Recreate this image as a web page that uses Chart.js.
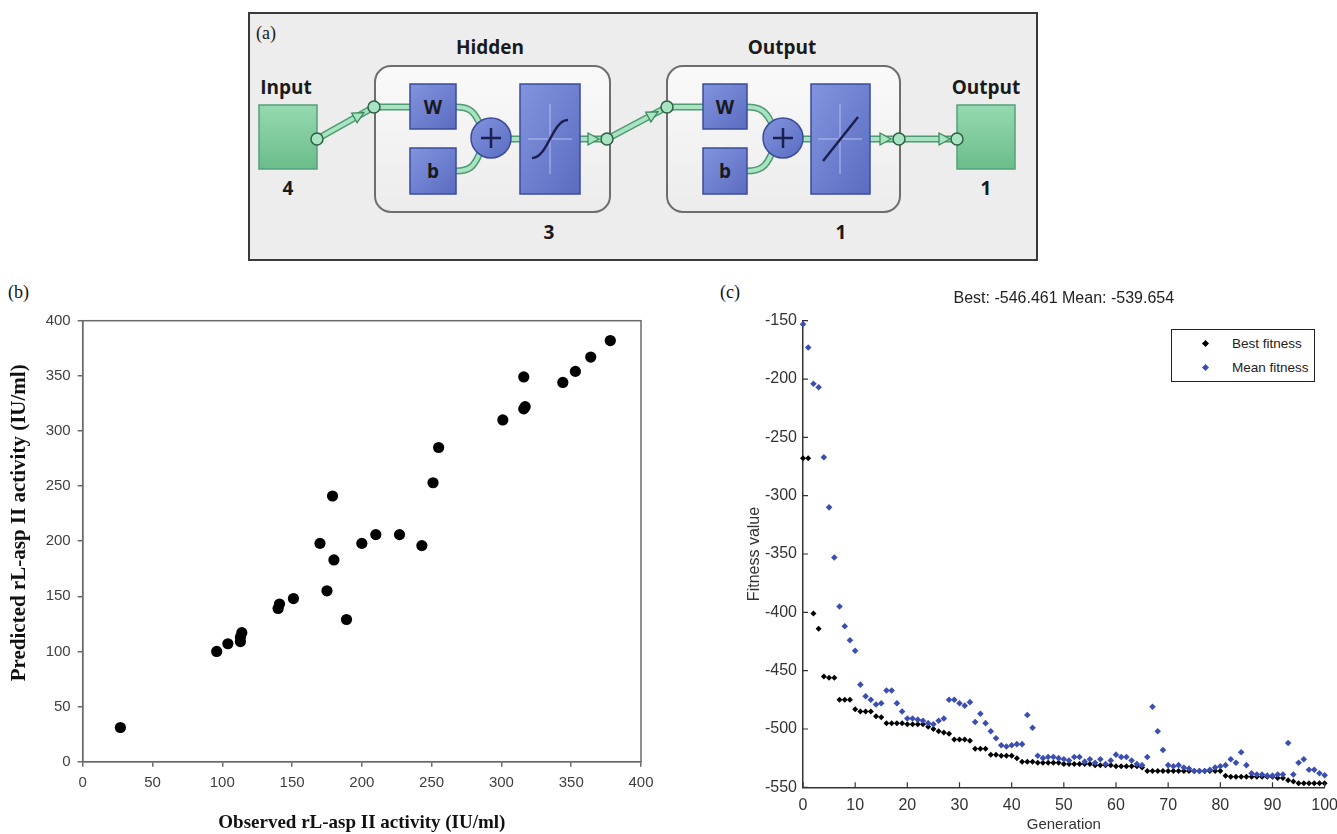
<!DOCTYPE html>
<html>
<head>
<meta charset="utf-8">
<title>ANN model and GA fitness</title>
<script src="https://cdn.jsdelivr.net/npm/chart.js@4.4.1/dist/chart.umd.min.js"></script>
<style>
  body { margin: 0; background: #fff; }
  #page { position: relative; width: 1337px; height: 834px; overflow: hidden; background: #fff; }
  .panel-label { position: absolute; font-family: "Liberation Serif", serif; font-size: 18px; color: #111; }
  #wrapB { position: absolute; left: 0; top: 280px; width: 680px; height: 554px; }
  /* a bit wider than the page: the x tick padding eats into the right edge */
  #wrapC { position: absolute; left: 700px; top: 280px; width: 647px; height: 554px; }
  #legendC {
    position: absolute; left: 1171px; top: 329px; width: 144px; height: 53px;
    box-sizing: border-box; border: 1.5px solid #222; background: #fff;
    font-family: "Liberation Sans", Arial, sans-serif; font-size: 13.5px; color: #222;
  }
  #legendC .row { position: absolute; left: 0; height: 14px; line-height: 14px; }
  #legendC .mk { position: absolute; left: 31px; top: 4px; width: 5px; height: 5px; transform: rotate(45deg); }
  #legendC .txt { position: absolute; left: 60px; top: 0; white-space: nowrap; }
  #diagram text { font-family: "Open Sans", "DejaVu Sans", sans-serif; font-weight: bold; fill: #1a1a1a; }
</style>
</head>
<body>
<div id="page">

<!-- (a) network diagram -->
<svg id="diagram" width="1337" height="270" style="position:absolute;left:0;top:0">
  <defs>
    <linearGradient id="gGreen" x1="0" y1="0" x2="0" y2="1">
      <stop offset="0" stop-color="#96d9b0"/><stop offset="1" stop-color="#6bbd8b"/>
    </linearGradient>
    <linearGradient id="gBlue" x1="0" y1="0" x2="1" y2="1">
      <stop offset="0" stop-color="#8294de"/><stop offset="1" stop-color="#5b6cc1"/>
    </linearGradient>
    <linearGradient id="gLayer" x1="0" y1="0" x2="0" y2="1">
      <stop offset="0" stop-color="#fafafa"/><stop offset="1" stop-color="#ececec"/>
    </linearGradient>
  </defs>
  <rect x="249" y="13" width="788" height="247" fill="#ededed" stroke="#3a3a3a" stroke-width="2"/>
  <text x="256" y="39" style="font-family:'Liberation Serif',serif;font-weight:normal;font-size:18px">(a)</text>

  <rect x="375" y="66" width="235" height="146" rx="16" fill="url(#gLayer)" stroke="#6e6e6e" stroke-width="2"/>
  <rect x="667" y="66" width="233" height="146" rx="16" fill="url(#gLayer)" stroke="#6e6e6e" stroke-width="2"/>

  <!-- tubes -->
  <g fill="none" stroke="#4f9a70" stroke-width="7" stroke-linecap="round">
    <path d="M317,139 L374,107"/><path d="M374,107 L410,107"/>
    <path d="M456,107 C470,107 474,112 479,122"/><path d="M456,171 C470,171 474,166 479,155"/>
    <path d="M511,139 L520,139"/><path d="M580,139 L607,139"/>
    <path d="M607,139 L667,107"/><path d="M667,107 L703,107"/>
    <path d="M747,107 C761,107 766,112 771,122"/><path d="M747,171 C761,171 766,166 771,155"/>
    <path d="M803,139 L811,139"/><path d="M870,139 L899,139"/><path d="M899,139 L957,139"/>
  </g>
  <g fill="none" stroke="#a8e4c2" stroke-width="4" stroke-linecap="round">
    <path d="M317,139 L374,107"/><path d="M374,107 L410,107"/>
    <path d="M456,107 C470,107 474,112 479,122"/><path d="M456,171 C470,171 474,166 479,155"/>
    <path d="M511,139 L520,139"/><path d="M580,139 L607,139"/>
    <path d="M607,139 L667,107"/><path d="M667,107 L703,107"/>
    <path d="M747,107 C761,107 766,112 771,122"/><path d="M747,171 C761,171 766,166 771,155"/>
    <path d="M803,139 L811,139"/><path d="M870,139 L899,139"/><path d="M899,139 L957,139"/>
  </g>
  <g fill="#a8e4c2" stroke="#3f8a60" stroke-width="1.3">
    <polygon points="351.7,113.1 364,112.5 357.1,122.7"/>
    <polygon points="645.7,112.2 658,111.8 650.9,121.9"/>
    <polygon points="588,133 599,139 588,145"/>
    <polygon points="880,133 891,139 880,145"/>
    <polygon points="939,133 950,139 939,145"/>
  </g>

  <!-- input / output squares -->
  <rect x="259" y="105" width="58" height="64" fill="url(#gGreen)" stroke="#56a079" stroke-width="1.5"/>
  <rect x="957" y="105" width="58" height="64" fill="url(#gGreen)" stroke="#56a079" stroke-width="1.5"/>

  <!-- weight / bias / transfer boxes -->
  <g fill="url(#gBlue)" stroke="#3b4b9c" stroke-width="1.5">
    <rect x="410" y="84" width="46" height="45"/><rect x="410" y="148" width="46" height="46"/>
    <rect x="520" y="84" width="60" height="110"/>
    <rect x="703" y="84" width="44" height="45"/><rect x="703" y="148" width="44" height="46"/>
    <rect x="811" y="84" width="59" height="110"/>
    <circle cx="491" cy="138" r="20"/><circle cx="783" cy="138" r="20"/>
  </g>
  <g stroke="#b4c0f0" stroke-width="1">
    <path d="M550,104 L550,174 M528,139 L572,139"/>
    <path d="M840,104 L840,174 M818,139 L862,139"/>
  </g>
  <g fill="none" stroke="#1b2050" stroke-width="2.5">
    <path d="M532,158 C548,158 552,120 568,120"/>
    <path d="M823,161 L858,117"/>
    <path d="M481,138 L501,138 M491,128 L491,148"/>
    <path d="M773,138 L793,138 M783,128 L783,148"/>
  </g>

  <!-- connector nodes -->
  <g fill="#a8e4c2" stroke="#2f5f45" stroke-width="1.5">
    <circle cx="317" cy="139" r="6"/><circle cx="374" cy="107" r="6"/>
    <circle cx="607" cy="139" r="6"/><circle cx="667" cy="107" r="6"/>
    <circle cx="899" cy="139" r="6"/><circle cx="957" cy="139" r="6"/>
  </g>

  <text x="490" y="54" font-size="19" text-anchor="middle">Hidden</text>
  <text x="782" y="54" font-size="19" text-anchor="middle">Output</text>
  <text x="286" y="94" font-size="19" text-anchor="middle">Input</text>
  <text x="986" y="94" font-size="19" text-anchor="middle">Output</text>
  <text x="288" y="195" font-size="19" text-anchor="middle">4</text>
  <text x="549" y="239" font-size="19" text-anchor="middle">3</text>
  <text x="841" y="239" font-size="19" text-anchor="middle">1</text>
  <text x="986" y="195" font-size="19" text-anchor="middle">1</text>
  <text x="433" y="114" font-size="19" text-anchor="middle">W</text>
  <text x="433" y="178" font-size="19" text-anchor="middle">b</text>
  <text x="725" y="114" font-size="19" text-anchor="middle">W</text>
  <text x="725" y="178" font-size="19" text-anchor="middle">b</text>
</svg>

<div class="panel-label" style="left:8px;top:282px">(b)</div>
<div class="panel-label" style="left:720px;top:282px">(c)</div>

<div id="wrapB"><canvas id="chartB"></canvas></div>
<div id="wrapC"><canvas id="chartC"></canvas></div>

<div id="legendC">
  <div class="row" style="top:7px"><span class="mk" style="background:#000"></span><span class="txt">Best fitness</span></div>
  <div class="row" style="top:31px"><span class="mk" style="background:#3b4fb3"></span><span class="txt">Mean fitness</span></div>
</div>

</div>

<script>
// (b) observed vs predicted activity (IU/ml)
const observed = [27, 96, 104, 113, 113, 114, 140, 141, 151, 170, 179, 180, 175, 189,
  200, 210, 227, 243, 251, 255, 301, 316, 317, 316, 344, 353, 364, 378];
const predicted = [31, 100, 107, 109, 113, 117, 139, 143, 148, 198, 241, 183, 155, 129,
  198, 206, 206, 196, 253, 285, 310, 320, 322, 349, 344, 354, 367, 382];

// (c) GA fitness per generation (0..100)
const bestFitness = [
  -268, -268, -401, -414, -455, -456, -456, -475, -475, -475,
  -483, -485, -485, -485, -489, -490, -495, -495, -495, -495,
  -496, -496, -496, -496, -498, -500, -502, -503, -504, -509,
  -509, -509, -510, -517, -517, -517, -522, -522, -523, -523,
  -523, -525, -528, -528, -528, -529, -529, -529, -529, -529,
  -530, -530, -530, -530, -530, -530, -531, -531, -531, -531,
  -532, -532, -532, -532, -532, -533, -536, -536, -536, -536,
  -536, -536, -536, -536, -536, -536, -536, -536, -536, -536,
  -536, -540, -541, -541, -541, -541, -541, -541, -541, -541,
  -541, -542, -542, -544, -545, -546.461, -546.461, -546.461, -546.461, -546.461,
  -546.461
];
const meanFitness = [
  -153, -173, -204, -207, -267, -310, -353, -395, -412, -424,
  -433, -462, -472, -475, -479, -478, -467, -467, -478, -485,
  -491, -491, -492, -493, -495, -496, -493, -491, -475, -475,
  -478, -480, -477, -494, -487, -495, -502, -508, -514, -515,
  -514, -513, -513, -488, -499, -523, -525, -524, -524, -525,
  -526, -527, -524, -524, -528, -526, -529, -526, -530, -527,
  -522, -524, -524, -527, -530, -531, -524, -481, -502, -518,
  -531, -532, -531, -533, -534, -536, -536, -536, -535, -533,
  -532, -531, -526, -529, -520, -531, -538, -539, -539, -540,
  -540, -539, -539, -512, -539, -529, -526, -535, -535, -538,
  -539.654
];
const fitnessTitle = "Best: -546.461 Mean: -539.654";

const tickFont = { family: "Liberation Sans", size: 15 };

// box round the plot area, like the Excel chart
const frameBox = {
  id: "frameBox",
  afterDraw(chart) {
    const { ctx, chartArea: a } = chart;
    ctx.save();
    ctx.strokeStyle = "#6a6a6a";
    ctx.lineWidth = 1.5;
    ctx.strokeRect(a.left, a.top, a.right - a.left, a.bottom - a.top);
    ctx.restore();
  }
};

// MATLAB style tick marks pointing into the plot
const innerTicks = {
  id: "innerTicks",
  afterDraw(chart) {
    const { ctx, chartArea: a, scales: { x, y } } = chart;
    ctx.save();
    ctx.strokeStyle = "#333";
    ctx.lineWidth = 1.2;
    ctx.beginPath();
    x.ticks.forEach((t) => {
      const px = x.getPixelForValue(t.value);
      ctx.moveTo(px, a.bottom);
      ctx.lineTo(px, a.bottom - 5);
    });
    y.ticks.forEach((t) => {
      const py = y.getPixelForValue(t.value);
      ctx.moveTo(a.left, py);
      ctx.lineTo(a.left + 5, py);
    });
    ctx.stroke();
    ctx.restore();
  }
};

new Chart(document.getElementById("chartB"), {
  type: "scatter",
  data: {
    datasets: [{
      label: "Predicted",
      data: observed.map((v, i) => ({ x: v, y: predicted[i] })),
      backgroundColor: "#000",
      borderColor: "#000",
      pointRadius: 5.6,
      borderWidth: 0,
      clip: false
    }]
  },
  options: {
    responsive: true,
    maintainAspectRatio: false,
    animation: false,
    layout: { padding: { top: 40.7, right: 39, bottom: 0, left: 0 } },
    plugins: { legend: { display: false }, tooltip: { enabled: false } },
    scales: {
      x: {
        type: "linear", min: 0, max: 400,
        ticks: { stepSize: 50, color: "#404040", font: tickFont, padding: 7 },
        grid: { display: true, drawOnChartArea: false, drawTicks: true, tickLength: 5, color: "#6a6a6a", lineWidth: 1.5 },
        border: { display: true, color: "#6a6a6a", width: 1.5 },
        title: {
          display: true, text: "Observed rL-asp II activity (IU/ml)", color: "#111",
          font: { family: "Liberation Serif", size: 19, weight: "bold" },
          padding: { top: 0, bottom: 0 }
        },
        afterFit: (s) => { s.height = 72.3; }
      },
      y: {
        type: "linear", min: 0, max: 400,
        ticks: { stepSize: 50, color: "#404040", font: tickFont, padding: 7 },
        grid: { display: true, drawOnChartArea: false, drawTicks: true, tickLength: 5, color: "#6a6a6a", lineWidth: 1.5 },
        border: { display: true, color: "#6a6a6a", width: 1.5 },
        title: {
          display: true,
          // leading spaces nudge the title up the axis as in the original
          text: "       Predicted rL-asp II activity (IU/ml)", color: "#111",
          font: { family: "Liberation Serif", size: 21, weight: "bold" },
          padding: { top: 7.4, bottom: 0 }
        },
        afterFit: (s) => { s.width = 82.7; }
      }
    }
  },
  plugins: [frameBox]
});

new Chart(document.getElementById("chartC"), {
  type: "scatter",
  data: {
    datasets: [
      {
        label: "Best fitness",
        data: bestFitness.map((v, i) => ({ x: i, y: v })),
        backgroundColor: "#000",
        pointStyle: "rectRot",
        pointRadius: 3,
        borderWidth: 0,
        order: 1,
        clip: false
      },
      {
        label: "Mean fitness",
        data: meanFitness.map((v, i) => ({ x: i, y: v })),
        backgroundColor: "#3b4fb3",
        pointStyle: "rectRot",
        pointRadius: 3.3,
        borderWidth: 0,
        order: 0,
        clip: false
      }
    ]
  },
  options: {
    responsive: true,
    maintainAspectRatio: false,
    animation: false,
    layout: { padding: { top: 0, right: 12, bottom: 0, left: 0 } },
    plugins: {
      legend: { display: false },
      tooltip: { enabled: false },
      title: {
        display: true, text: fitnessTitle, fullSize: false, color: "#222",
        font: { family: "Liberation Sans", size: 16, weight: "normal" },
        padding: { top: 8.9, bottom: 12.6 }
      }
    },
    scales: {
      x: {
        type: "linear", min: 0, max: 100,
        ticks: { stepSize: 10, color: "#333", font: { family: "Liberation Sans", size: 16 }, padding: 9 },
        grid: { display: false, drawTicks: false },
        border: { display: true, color: "#333", width: 1.5 },
        title: {
          display: true, text: "Generation", color: "#333",
          font: { family: "Liberation Sans", size: 15 },
          padding: { top: 0, bottom: 0 }
        },
        afterFit: (s) => { s.height = 46.7; }
      },
      y: {
        type: "linear", min: -550, max: -150,
        ticks: { stepSize: 50, color: "#333", font: { family: "Liberation Sans", size: 16 }, padding: 6 },
        grid: { display: false, drawTicks: false },
        border: { display: true, color: "#333", width: 1.5 },
        title: {
          display: true, text: "Fitness value", color: "#333",
          font: { family: "Liberation Sans", size: 16 },
          padding: { top: 45.4, bottom: 0 }
        },
        afterFit: (s) => { s.width = 103; }
      }
    }
  },
  plugins: [innerTicks]
});
</script>
</body>
</html>
